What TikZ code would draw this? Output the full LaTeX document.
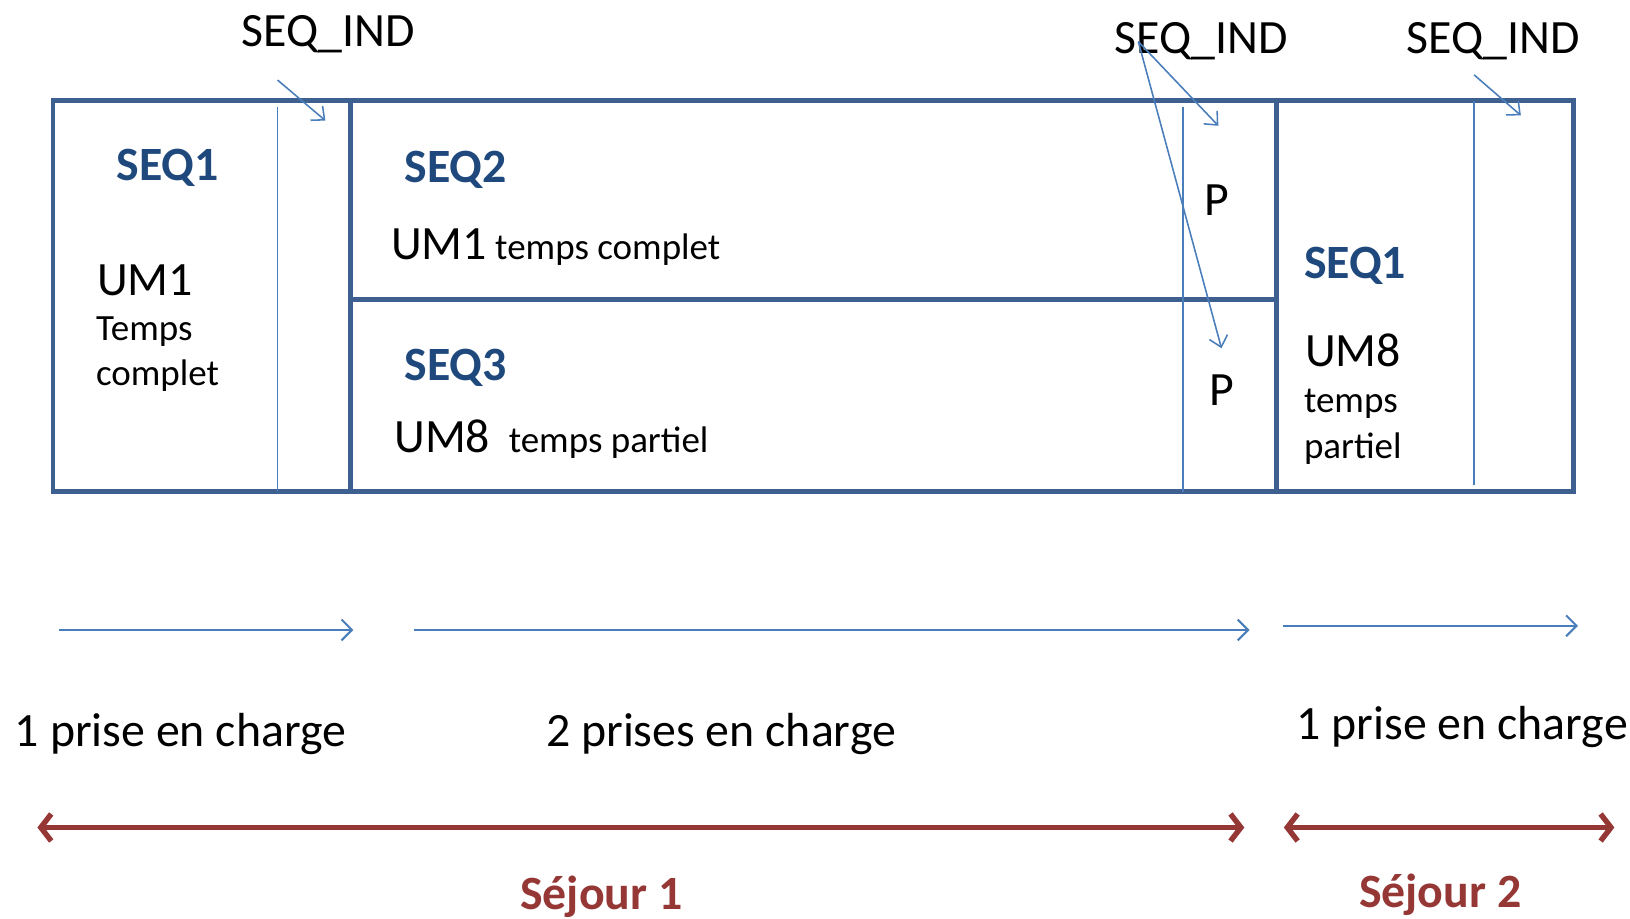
\documentclass[tikz,border=0pt]{standalone}
\usepackage{fontspec}
\setmainfont{Carlito}
\usetikzlibrary{arrows.meta}
\definecolor{boxc}{HTML}{3E6091}
\definecolor{linec}{HTML}{4A7EBB}
\definecolor{seqc}{HTML}{1F497D}
\definecolor{redc}{HTML}{953735}
\tikzset{
  box/.style={draw=boxc, line width=2.3pt},
  thinline/.style={draw=linec, line width=0.75pt},
  ptr/.style={draw=linec, line width=0.75pt, -{Straight Barb[length=5pt,width=9pt]}},
  flow/.style={draw=linec, line width=1pt, -{Straight Barb[length=5pt,width=10pt]}},
  span/.style={draw=redc, line width=2.6pt, {Straight Barb[length=5pt,width=13pt]}-{Straight Barb[length=5pt,width=13pt]}},
  big/.style={font=\fontsize{23}{27}\selectfont, anchor=base west, inner sep=0pt},
  small/.style={font=\fontsize{17.8}{21}\selectfont, anchor=base west, inner sep=0pt},
  seq/.style={font=\fontsize{23}{27}\selectfont\bfseries, text=seqc, anchor=base west, inner sep=0pt},
  sej/.style={font=\fontsize{23}{27}\selectfont\bfseries, text=redc, anchor=base west, inner sep=0pt},
}
\begin{document}
\begin{tikzpicture}[x=0.5pt,y=-0.5pt]
\useasboundingbox (0,0) rectangle (1568,884);
% boxes
\draw[box] (51,97) rectangle (1514,473);
\draw[box] (337,97) -- (337,473);
\draw[box] (1228,97) -- (1228,473);
\draw[box] (337,288) -- (1228,288);
% thin dividers
\draw[thinline] (267,103) -- (267,473);
\draw[thinline] (1138,103) -- (1138,473);
\draw[thinline] (1418,97) -- (1418,467);
% SEQ_IND labels
\node[big] (ind1) at (232,45) {SEQ\_IND};
\node[big] (ind2) at (1072,51) {SEQ\_IND};
\node[big] (ind3) at (1353,51) {SEQ\_IND};
\coordinate (s1) at (267,77);
\coordinate (e1) at (313,116);
\coordinate (s2) at (1095,40);
\coordinate (e2a) at (1172,121);
\coordinate (e2b) at (1175,335);
\coordinate (s3) at (1418,72);
\coordinate (e3) at (1463,111);
\draw[ptr] (s1) -- (e1);
\draw[ptr] (s2) -- (e2a);
\draw[ptr] (s2) -- (e2b);
\draw[ptr] (s3) -- (e3);
% left cell
\node[seq] (seq1a) at (112,174) {SEQ1};
\node[big] (um1a) at (93,284) {UM1};
\node[small] (tc1) at (92,328) {Temps};
\node[small] (tc2) at (92,371) {complet};
% SEQ2
\node[seq] (seq2) at (389,176) {SEQ2};
\node[big] (um1b) at (376,250) {UM1};
\node[small] (tcb) at (476,250) {temps complet};
% SEQ3
\node[seq] (seq3) at (389,366) {SEQ3};
\node[big] (um8a) at (379,435) {UM8};
\node[small] (tpa) at (489,435) {temps partiel};
% P
\node[big] (p1) at (1158,207) {P};
\node[big] (p2) at (1163,390) {P};
% right cell
\node[seq] (seq1b) at (1254,268) {SEQ1};
\node[big] (um8b) at (1255,353) {UM8};
\node[small] (tp1) at (1254,397) {temps};
\node[small] (tp2) at (1254,441) {partiel};
% flow arrows
\coordinate (f1s) at (57,606);  \coordinate (f1e) at (340,606);
\coordinate (f2s) at (398,606); \coordinate (f2e) at (1202,606);
\coordinate (f3s) at (1234,602); \coordinate (f3e) at (1518,602);
\draw[flow] (f1s) -- (f1e);
\draw[flow] (f2s) -- (f2e);
\draw[flow] (f3s) -- (f3e);
\node[big] (pc1) at (14,718) {1 prise en charge};
\node[big] (pc2) at (525,718) {2 prises en charge};
\node[big] (pc3) at (1247,711) {1 prise en charge};
% sejour spans
\coordinate (r1s) at (36,796);  \coordinate (r1e) at (1197,796);
\coordinate (r2s) at (1235,796); \coordinate (r2e) at (1553,796);
\draw[span] (r1s) -- (r1e);
\draw[span] (r2s) -- (r2e);
\node[sej] (sej1) at (500,875) {Séjour 1};
\node[sej] (sej2) at (1307,873) {Séjour 2};
\end{tikzpicture}
\end{document}
